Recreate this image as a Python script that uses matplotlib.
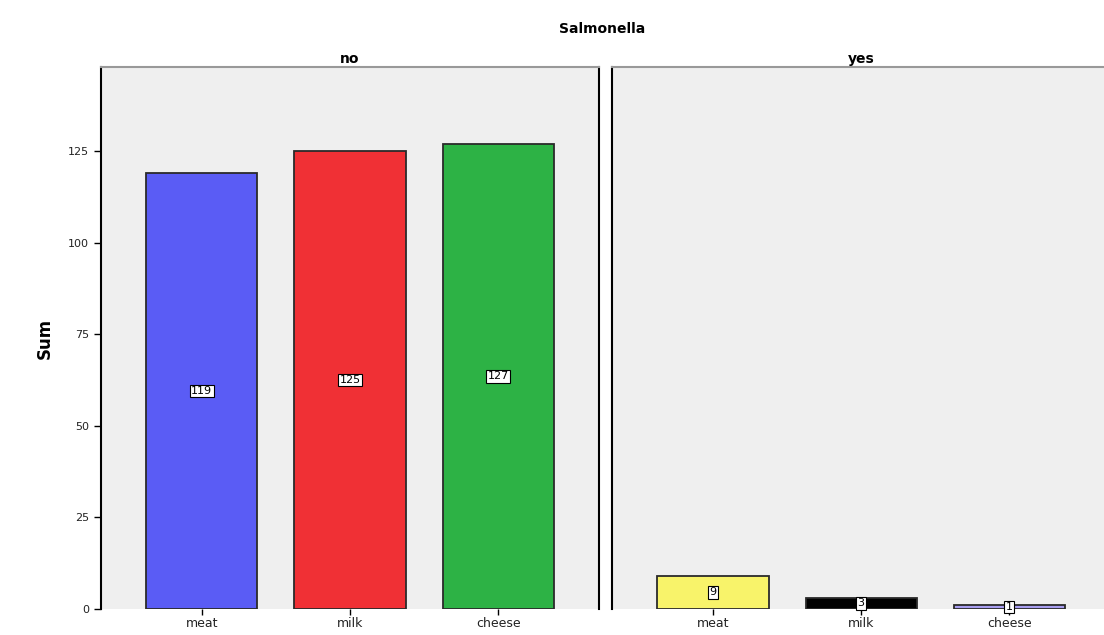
import matplotlib.pyplot as plt

# Sum of samples by food type, split by Salmonella result
foods = ["meat", "milk", "cheese"]
no_counts = [119, 125, 127]
yes_counts = [9, 3, 1]

no_colors = ["#5a5cf5", "#f03035", "#2db245"]
yes_colors = ["#f8f36a", "#000000", "#a89ef0"]

fig = plt.figure(figsize=(11.04, 6.35), dpi=100)
ax1 = fig.add_axes([0.0915, 0.041, 0.451, 0.8535])
ax2 = fig.add_axes([0.5545, 0.041, 0.451, 0.8535], sharey=ax1)

panels = [(ax1, "no", no_counts, no_colors), (ax2, "yes", yes_counts, yes_colors)]
x = range(len(foods))

for ax, name, vals, cols in panels:
    ax.set_facecolor("#efefef")
    bars = ax.bar(x, vals, width=0.75, color=cols, edgecolor="#2a2a2a", linewidth=1.3)
    for b, v in zip(bars, vals):
        ax.text(b.get_x() + b.get_width() / 2, v / 2, str(v), ha="center", va="center",
                fontsize=8, color="black",
                bbox=dict(boxstyle="square,pad=0.12", fc="white", ec="black", lw=0.8))
    ax.set_xlim(-0.68, 2.68)
    ax.set_ylim(0, 148)
    ax.set_xticks(list(x))
    ax.set_xticklabels(foods, fontsize=9, color="#222222")
    ax.tick_params(axis="x", length=4, width=1, pad=2)
    ax.set_title(name, fontsize=10, fontweight="bold", pad=3)
    ax.spines["bottom"].set_visible(False)
    ax.spines["top"].set_color("#999999")
    ax.spines["top"].set_linewidth(1.5)
    ax.spines["left"].set_linewidth(1.5)
    ax.spines["right"].set_linewidth(1.5)

ax2.spines["right"].set_visible(False)
ax2.tick_params(axis="y", left=False, labelleft=False)

ax1.set_yticks([0, 25, 50, 75, 100, 125])
ax1.tick_params(axis="y", labelsize=8, length=5, width=1, labelcolor="#222222")
ax1.set_ylabel("Sum", fontsize=12, fontweight="bold", labelpad=10)

fig.text(0.545, 0.955, "Salmonella", ha="center", va="center", fontsize=10, fontweight="bold")

fig.savefig("out.png", dpi=100)
